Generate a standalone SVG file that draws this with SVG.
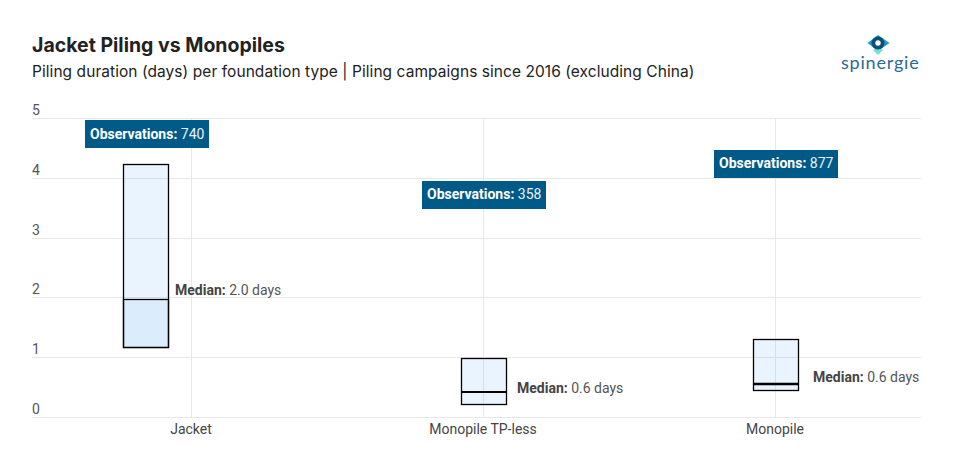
<svg xmlns="http://www.w3.org/2000/svg" width="962" height="468" viewBox="0 0 962 468">
<style>
.grid{stroke:#e8e8e8;stroke-width:1;fill:none}
.box{stroke:#000;stroke-width:1.3;fill:#2a8ff5;fill-opacity:.1}
.low{fill-opacity:.07}
.med{stroke:#000;fill:none}
.tick{font:14px Roboto,sans-serif;fill:#555}
.cat{font:14px Roboto,sans-serif;fill:#444;text-anchor:middle}
.ann{font:14px Roboto,sans-serif;fill:#555}
.b{font-weight:700;fill:#444}
.obs{fill:#005a87}
.obst{font:14px Roboto,sans-serif;fill:#e6f2fa}
.obst .s{font-weight:700;fill:#fff}
</style>
<rect width="962" height="468" fill="#fff"/>
<text x="32" y="52" font-family="Inter,sans-serif" font-size="19.500" font-weight="700" fill="#222">Jacket Piling vs Monopiles</text>
<text x="32" y="77" font-family="Inter,sans-serif" font-size="15.500" letter-spacing="0.060" fill="#222">Piling duration (days) per foundation type | Piling campaigns since 2016 (excluding China)</text>
<g id="logo">
<path d="M867.500 43L878 35L889.500 43L878 51Z" fill="#1a9fd0"/>
<path d="M873 50L878 55L883 50L878 47Z" fill="#6fe3d2"/>
<circle cx="878" cy="43" r="6.500" fill="#0f4e78"/>
<circle cx="878" cy="43" r="2.700" fill="#fff"/>
<text x="841" y="69" font-family="Lato,sans-serif" font-size="18" letter-spacing="0.800" fill="#2a6a96">spinergie</text>
</g>
<g id="grid">
<path class="grid" d="M32 118.500H921M32 178.500H921M32 238.500H921M32 297.500H921M32 357.500H921M32 417.500H921M191.500 118V417M483.500 118V417M775.500 118V417"/>
</g>
<g id="axis">
<text class="tick" x="32" y="115">5</text>
<text class="tick" x="32" y="175">4</text>
<text class="tick" x="32" y="235">3</text>
<text class="tick" x="32" y="294">2</text>
<text class="tick" x="32" y="354">1</text>
<text class="tick" x="32" y="414">0</text>
<text class="cat" x="191" y="434">Jacket</text>
<text class="cat" x="483" y="434">Monopile TP-less</text>
<text class="cat" x="775" y="434">Monopile</text>
</g>
<g id="jacket">
<rect class="box" x="123.500" y="164.500" width="45" height="183"/>
<rect class="box low" x="123.500" y="299.500" width="45" height="48"/>
<rect class="obs" x="85" y="120" width="124" height="28"/>
<text class="obst" x="90" y="139"><tspan class="s">Observations:</tspan> 740</text>
<text class="ann" x="175" y="295"><tspan class="b">Median:</tspan> 2.0 days</text>
</g>
<g id="tpless">
<rect class="box" x="461.500" y="358.500" width="45" height="46"/>
<path class="med" stroke-width="2" d="M461 392H507"/>
<rect class="obs" x="422" y="181" width="124" height="28"/>
<text class="obst" x="427" y="199"><tspan class="s">Observations:</tspan> 358</text>
<text class="ann" x="517" y="393"><tspan class="b">Median:</tspan> 0.6 days</text>
</g>
<g id="monopile">
<rect class="box" x="753.500" y="339.500" width="45" height="51"/>
<path class="med" stroke-width="2.500" d="M753 384H799"/>
<rect class="obs" x="714" y="150" width="124" height="28"/>
<text class="obst" x="719" y="168"><tspan class="s">Observations:</tspan> 877</text>
<text class="ann" x="813" y="382"><tspan class="b">Median:</tspan> 0.6 days</text>
</g>
</svg>
